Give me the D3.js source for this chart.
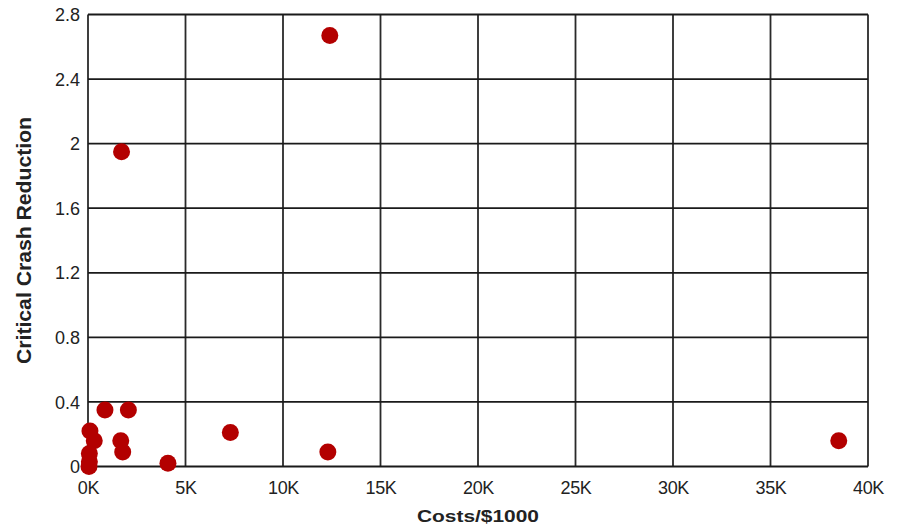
<!DOCTYPE html>
<html><head><meta charset="utf-8">
<script src="https://cdn.jsdelivr.net/npm/d3@7"></script>
<style>body{margin:0;background:#fff;} svg{display:block;}</style>
</head><body>
<svg id="chart" width="901" height="526"></svg>
<script>
// Data (costs in $1000, critical crash reduction)
const costs = [12.4, 1.72, 0.87, 2.07, 0.10, 0.32, 1.68, 1.78, 0.07, 0.07, 0.05, 4.1, 7.3, 12.3, 38.5];
const reductions = [2.67, 1.95, 0.35, 0.35, 0.22, 0.16, 0.16, 0.09, 0.08, 0.03, 0.0, 0.02, 0.21, 0.09, 0.16];
const xTicks = [0, 5, 10, 15, 20, 25, 30, 35, 40];
const yTicks = [0, 0.4, 0.8, 1.2, 1.6, 2, 2.4, 2.8];
const xTickLabels = ["0K","5K","10K","15K","20K","25K","30K","35K","40K"];
const yTickLabels = ["0","0.4","0.8","1.2","1.6","2","2.4","2.8"];

const svg = d3.select("#chart");
const L = 88, R = 868, T = 14.5, B = 466.5;
const x = d3.scaleLinear().domain([0, 40]).range([L, R]);
const y = d3.scaleLinear().domain([0, 2.8]).range([B, T]);

// grid
svg.append("g").selectAll("line").data(xTicks).join("line")
  .attr("x1", d => x(d)).attr("x2", d => x(d)).attr("y1", T).attr("y2", B)
  .attr("stroke", "#2a2a2a").attr("stroke-width", 1.8);
svg.append("g").selectAll("line").data(yTicks).join("line")
  .attr("x1", L).attr("x2", R).attr("y1", d => y(d)).attr("y2", d => y(d))
  .attr("stroke", "#1a1a1a").attr("stroke-width", 1.8);

// axes labels
const xAxis = d3.axisBottom(x).tickValues(xTicks).tickSize(0).tickPadding(0)
  .tickFormat((d, i) => xTickLabels[i]);
const gx = svg.append("g").attr("transform", `translate(0,${B})`).call(xAxis);
gx.select(".domain").remove();
gx.selectAll("text").attr("font-family", "Liberation Sans, Arial, sans-serif")
  .attr("font-size", 18).attr("fill", "#222").attr("dy", null).attr("y", 27)
  .attr("letter-spacing", "-0.3");

const yAxis = d3.axisLeft(y).tickValues(yTicks).tickSize(0).tickPadding(8)
  .tickFormat((d, i) => yTickLabels[i]);
const gy = svg.append("g").attr("transform", `translate(${L},0)`).call(yAxis);
gy.select(".domain").remove();
gy.selectAll("text").attr("font-family", "Liberation Sans, Arial, sans-serif")
  .attr("font-size", 18).attr("fill", "#222").attr("dy", "0.34em");

// points
const pts = costs.map((c, i) => ({c, r: reductions[i]}));
svg.append("g").selectAll("circle").data(pts).join("circle")
  .attr("cx", d => x(d.c)).attr("cy", d => y(d.r)).attr("r", 8.5)
  .attr("fill", "#b30000");

// titles
svg.append("text").attr("x", (L + R) / 2).attr("y", 522)
  .attr("text-anchor", "middle").attr("font-family", "Liberation Sans, Arial, sans-serif")
  .attr("font-size", 17).attr("font-weight", "bold").attr("fill", "#222")
  .attr("textLength", 122).attr("lengthAdjust", "spacingAndGlyphs")
  .text("Costs/$1000");
svg.append("text").attr("transform", `translate(31,${(T + B) / 2}) rotate(-90)`)
  .attr("text-anchor", "middle").attr("font-family", "Liberation Sans, Arial, sans-serif")
  .attr("font-size", 20).attr("font-weight", "bold").attr("fill", "#222")
  .attr("textLength", 247).attr("lengthAdjust", "spacingAndGlyphs")
  .text("Critical Crash Reduction");
</script>
</body></html>
